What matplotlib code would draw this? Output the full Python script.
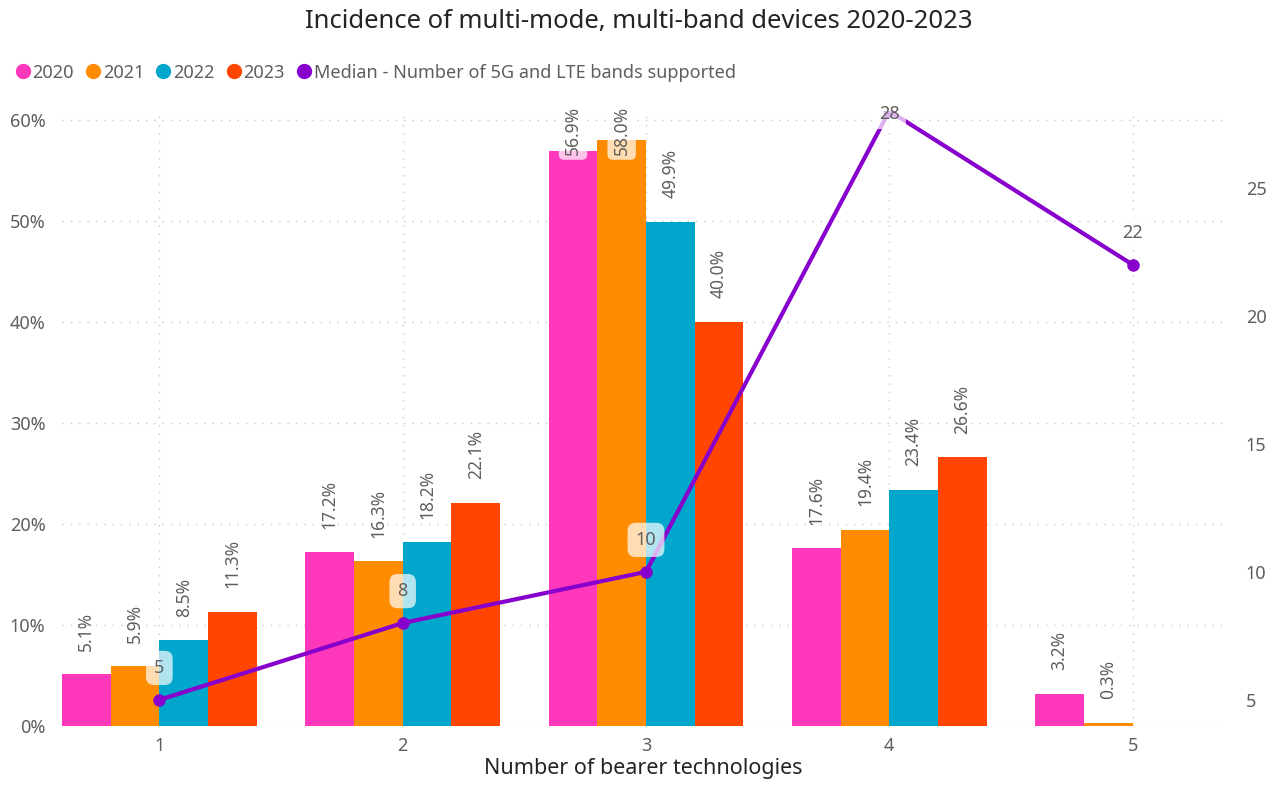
import numpy as np
import matplotlib.pyplot as plt
from matplotlib.ticker import PercentFormatter

plt.rcParams['font.family'] = ['Noto Sans', 'DejaVu Sans']

# ============================================================================
# data
categories = [1, 2, 3, 4, 5]
years = ['2020', '2021', '2022', '2023']
share_2020 = [5.1, 17.2, 56.9, 17.6, 3.2]
share_2021 = [5.9, 16.3, 58.0, 19.4, 0.3]
share_2022 = [8.5, 18.2, 49.9, 23.4, None]
share_2023 = [11.3, 22.1, 40.0, 26.6, None]
median_bands = [5, 8, 10, 28, 22]
median_name = 'Median - Number of 5G and LTE bands supported'

COLORS = ['#FF37BB', '#FF8C00', '#00A6CC', '#FF4500']
PURPLE = '#8800CC'
GREY = '#605E5C'
GRID = '#C8C8C8'

# ============================================================================
fig = plt.figure(figsize=(12.77, 7.85), dpi=100)
ax = fig.add_axes([0.0486, 0.0752, 0.9107, 0.7834])
ax2 = ax.twinx()

x = np.array(categories, dtype=float)
width = 0.2
ytop = 0.609

for i, (yr, vals) in enumerate(zip(years, [share_2020, share_2021, share_2022, share_2023])):
    xs = x - 0.3 + i * width
    for xi, v in zip(xs, vals):
        if v is None:
            continue
        ax.bar(xi, v / 100, width=width, color=COLORS[i], zorder=2, linewidth=0)
        lbl = f'{v:.1f}%'
        if v / 100 + 0.07 > ytop:
            # no room above the bar -> label sits inside, on a light box
            ax.annotate(lbl, (xi, ytop), xytext=(0, 4), textcoords='offset points',
                        rotation=90, ha='center', va='top', fontsize=12.5, color=GREY,
                        annotation_clip=False, zorder=5,
                        bbox=dict(boxstyle='round,pad=0.3', fc='white', ec='none', alpha=0.7))
        else:
            ax.annotate(lbl, (xi, v / 100), xytext=(0, 17), textcoords='offset points',
                        rotation=90, ha='center', va='bottom', fontsize=12.5, color=GREY,
                        zorder=5)

ax.set_xlim(0.6, 5.38)
ax.set_ylim(0, ytop)
ax.set_xticks(categories)
ax.set_yticks(np.arange(0, 0.61, 0.1))
ax.yaxis.set_major_formatter(PercentFormatter(1.0, decimals=0))
ax.grid(True, linestyle=(0, (1, 5)), color=GRID, linewidth=1, zorder=0)
ax.set_axisbelow(True)
ax.tick_params(axis='both', length=0, colors=GREY, labelsize=13)
ax.tick_params(axis='y', pad=12)
ax.tick_params(axis='x', pad=8)
ax.set_xlabel('Number of bearer technologies', fontsize=15.5, color='#252423', labelpad=2)
for s in ax.spines.values():
    s.set_visible(False)

# median line on right axis
ax2.plot(x, median_bands, color=PURPLE, linewidth=3, marker='o', markersize=8, zorder=4)
ax2.set_ylim(3.98, 28)
ax2.set_yticks([5, 10, 15, 20, 25])
ax2.tick_params(axis='y', length=0, colors=GREY, labelsize=13, pad=15)
for s in ax2.spines.values():
    s.set_visible(False)
ax2.set_zorder(ax.get_zorder() + 1)
ax2.patch.set_visible(False)

for xi, m in zip(x, median_bands):
    if m >= 28:
        ax2.annotate(str(m), (xi, 28), xytext=(0, -2), textcoords='offset points',
                     ha='center', va='center', fontsize=13, color=GREY, annotation_clip=False,
                     zorder=6,
                     bbox=dict(boxstyle='round,pad=0.35', fc='white', ec='none', alpha=0.7))
    else:
        ax2.annotate(str(m), (xi, m), xytext=(0, 23), textcoords='offset points',
                     ha='center', va='center', fontsize=13, color=GREY, zorder=6,
                     bbox=dict(boxstyle='round,pad=0.45', fc='white', ec='none', alpha=0.7))

fig.suptitle('Incidence of multi-mode, multi-band devices 2020-2023', y=0.988,
             fontsize=18.5, color='#252423')

handles = [plt.Line2D([], [], marker='o', linestyle='none', color=c, markersize=10) for c in COLORS]
handles.append(plt.Line2D([], [], marker='o', linestyle='none', color=PURPLE, markersize=10))
leg = fig.legend(handles, years + [median_name], loc='upper left', bbox_to_anchor=(0.0, 0.935),
                 ncol=5, frameon=False, fontsize=13, handletextpad=0.0, columnspacing=0.5,
                 handlelength=1.1, borderpad=0.2)
for t in leg.get_texts():
    t.set_color(GREY)

fig.savefig('out.png', dpi=100)
